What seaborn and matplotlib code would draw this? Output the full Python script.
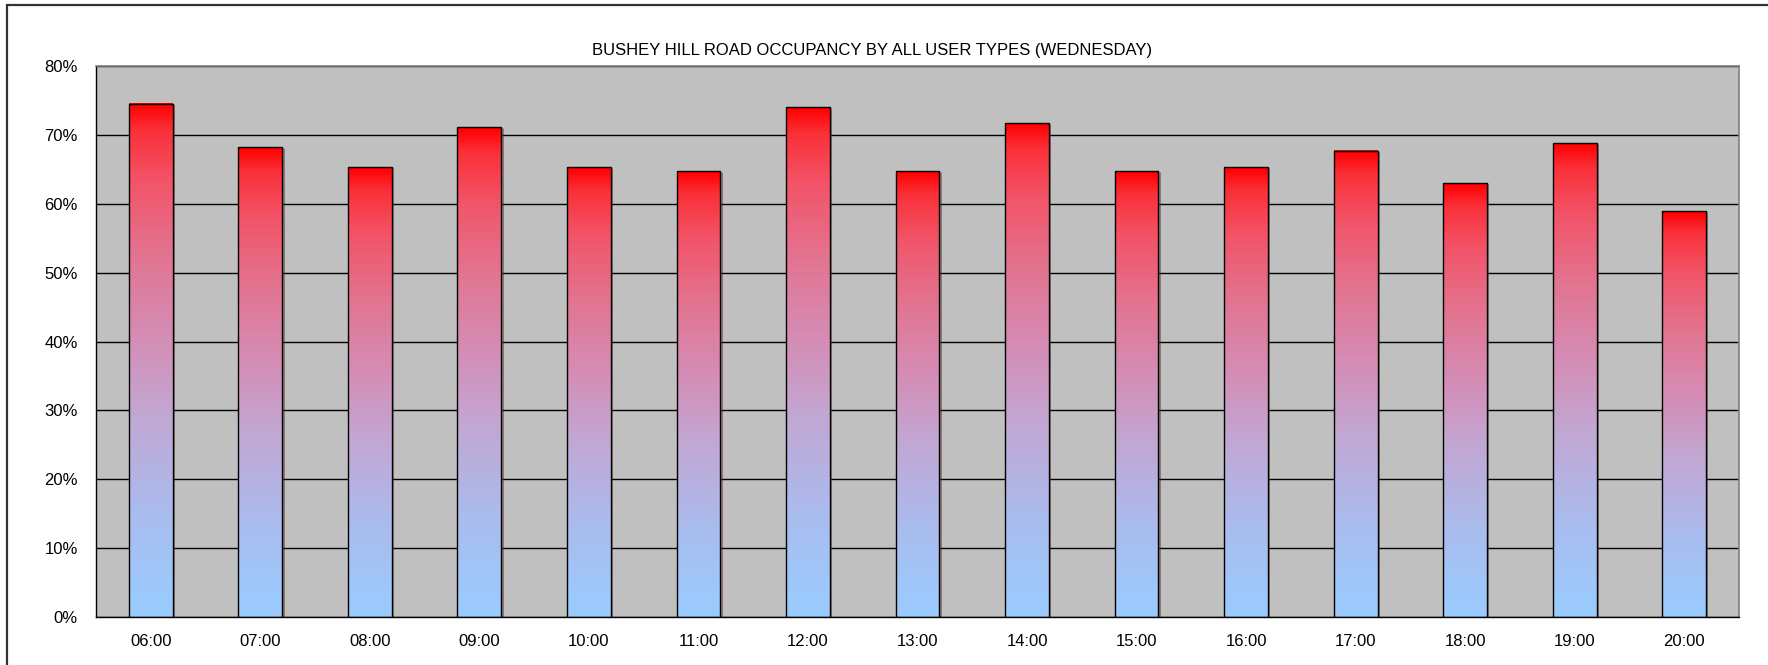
import matplotlib
matplotlib.use("Agg")
import matplotlib.pyplot as plt
import numpy as np
import pandas as pd
import seaborn as sns
from matplotlib.colors import LinearSegmentedColormap
from matplotlib.patches import Rectangle
from matplotlib.ticker import PercentFormatter, FixedLocator

hours = ["06:00", "07:00", "08:00", "09:00", "10:00", "11:00", "12:00", "13:00",
         "14:00", "15:00", "16:00", "17:00", "18:00", "19:00", "20:00"]
occupancy = [74.5, 68.2, 65.3, 71.1, 65.3, 64.75, 74.0, 64.75,
             71.7, 64.75, 65.3, 67.7, 63.0, 68.8, 58.9]
title = "BUSHEY HILL ROAD OCCUPANCY BY ALL USER TYPES (WEDNESDAY)"

df = pd.DataFrame({"hour": hours, "occ": occupancy})

sns.set_style("white")
plt.rcParams['font.family'] = ['Liberation Sans', 'DejaVu Sans']

W, H = 1768, 665
fig = plt.figure(figsize=(W / 100, H / 100), dpi=100)
ax = fig.add_axes([96 / W, 1 - 617 / H, (1739 - 96) / W, (617 - 66) / H])

# outer chart border (only top and left visible)
fig.patches.append(Rectangle((7 / W, -0.1), 1.2, 1 - 5 / H + 0.1, transform=fig.transFigure,
                             fill=False, edgecolor="#333333", linewidth=1.6))

sns.barplot(data=df, x="hour", y="occ", color="#FF0000", width=0.4,
            edgecolor="black", linewidth=1.0, ax=ax, zorder=3)

# gradient fill: light blue at the bottom, red at the top
cmap = LinearSegmentedColormap.from_list("grad", [
    (0.0, "#99CCFF"), (0.2, "#AABCEE"), (0.4, "#C3A6D2"), (0.55, "#D58CB4"),
    (0.7, "#E27592"), (0.85, "#F25468"), (0.95, "#FA3038"), (1.0, "#FF0000")])
grad = np.linspace(0, 1, 256).reshape(-1, 1)
for p in ax.patches:
    x0, w, h = p.get_x(), p.get_width(), p.get_height()
    ax.imshow(grad, cmap=cmap, origin="lower", aspect="auto",
              extent=(x0, x0 + w, 0, h), zorder=2.5, interpolation="bilinear")
    # slight shadow on the right edge
    ax.plot([x0 + w + 0.012, x0 + w + 0.012], [0, h - 0.3], color="#5a3030",
            linewidth=1.2, zorder=2.4, alpha=0.6)
    p.set_facecolor("none")

ax.set_xlim(-0.5, len(hours) - 0.5)
ax.set_ylim(0, 80)
ax.set_facecolor("#C0C0C0")
ax.set_yticks(np.arange(0, 81, 10))
ax.yaxis.set_major_formatter(PercentFormatter(decimals=0))
ax.grid(axis="y", color="black", linewidth=1.0)
ax.set_axisbelow(True)

ax.xaxis.set_minor_locator(FixedLocator(np.arange(-0.5, len(hours), 1)))
ax.tick_params(axis="x", which="major", length=0, pad=12, labelsize=12)
ax.tick_params(axis="x", which="minor", length=5, width=1, color="black", direction="out")
ax.tick_params(axis="y", length=5, width=1, color="black", direction="out", pad=8, labelsize=12)
ax.tick_params(axis="both", labelcolor="black")

ax.set_xlabel("")
ax.set_ylabel("")
for s in ["left", "bottom"]:
    ax.spines[s].set_color("black")
    ax.spines[s].set_linewidth(1.0)
for s in ["top", "right"]:
    ax.spines[s].set_color("#808080")
    ax.spines[s].set_linewidth(1.2)

fig.text(872 / W, 1 - 51 / H, title, ha="center", va="center", fontsize=12, color="black")

fig.savefig("out.png", dpi=100, facecolor="white")
